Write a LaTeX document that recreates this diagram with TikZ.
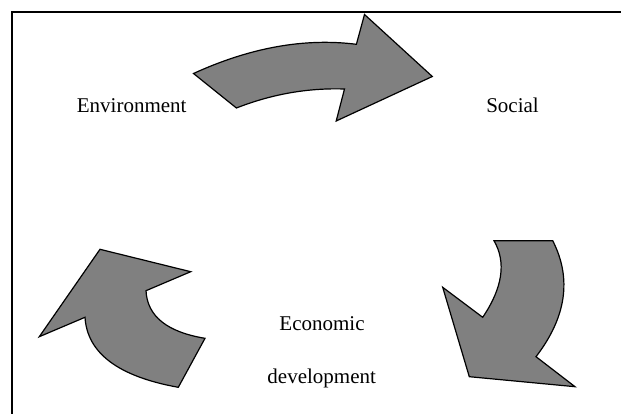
\documentclass[tikz,border=0pt]{standalone}
\usepackage{fontspec}
\setmainfont{Liberation Serif}
\usetikzlibrary{calc}
\tikzset{
  cyclearrow/.style={draw=black, line width=1.2pt, fill=arrowgray, line join=miter},
  label/.style={font=\fontsize{21}{25}\selectfont, anchor=base, inner sep=0pt},
  frameline/.style={draw=black, line width=1.7pt}
}
\definecolor{arrowgray}{RGB}{128,128,128}
\begin{document}
\begin{tikzpicture}[x=1pt, y=-1pt]
\useasboundingbox (0,0) rectangle (621,414);
% frame (top and left edges)
\coordinate (fbl) at (11.7,414);
\coordinate (ftl) at (11.7,12.3);
\coordinate (ftr) at (621,12.3);
\draw[frameline] (fbl) -- (ftl) -- (ftr);

% labels
\node[label] (env) at (131.7,112.3) {Environment};
\node[label] (soc) at (512.5,112.8) {Social};
\node[label] (eco) at (322,330) {Economic};
\node[label] (dev) at (321.7,383.5) {development};

% top arrow
\coordinate (ta1) at (193.5,73.5);
\coordinate (ta2) at (236.4,108);
\coordinate (taq1) at (289.5,87.2);
\coordinate (ta3) at (344.5,89);
\coordinate (ta4) at (336.2,121);
\coordinate (ta5) at (432.3,76.5);
\coordinate (ta6) at (364.5,14.5);
\coordinate (ta7) at (356.4,44.3);
\coordinate (taq2) at (278.8,34.5);
\draw[cyclearrow] (ta1) -- (ta2)
  .. controls ($(ta2)!2/3!(taq1)$) and ($(ta3)!2/3!(taq1)$) .. (ta3)
  -- (ta4) -- (ta5) -- (ta6) -- (ta7)
  .. controls ($(ta7)!2/3!(taq2)$) and ($(ta1)!2/3!(taq2)$) .. (ta1) -- cycle;

% right arrow
\coordinate (ra1) at (494,240.7);
\coordinate (ra2) at (552.7,240.7);
\coordinate (raq1) at (581.6,297.3);
\coordinate (ra3) at (536,356.7);
\coordinate (ra4) at (575,386.7);
\coordinate (ra5) at (469.3,376.7);
\coordinate (ra6) at (442.7,287.3);
\coordinate (ra7) at (482.7,317.3);
\coordinate (raq2) at (512.65,273);
\draw[cyclearrow] (ra1) -- (ra2)
  .. controls ($(ra2)!2/3!(raq1)$) and ($(ra3)!2/3!(raq1)$) .. (ra3)
  -- (ra4) -- (ra5) -- (ra6) -- (ra7)
  .. controls ($(ra7)!2/3!(raq2)$) and ($(ra1)!2/3!(raq2)$) .. (ra1) -- cycle;

% left arrow
\coordinate (la1) at (100,249.3);
\coordinate (la2) at (190.7,271.7);
\coordinate (la3) at (146,290.7);
\coordinate (laq1) at (147.9,328.9);
\coordinate (la4) at (205,338.3);
\coordinate (la5) at (178.3,387.3);
\coordinate (laq2) at (88.35,371.1);
\coordinate (la6) at (85,317.3);
\coordinate (la7) at (39.3,336.7);
\draw[cyclearrow] (la1) -- (la2) -- (la3)
  .. controls ($(la3)!2/3!(laq1)$) and ($(la4)!2/3!(laq1)$) .. (la4)
  -- (la5)
  .. controls ($(la5)!2/3!(laq2)$) and ($(la6)!2/3!(laq2)$) .. (la6)
  -- (la7) -- cycle;
\end{tikzpicture}
\end{document}
